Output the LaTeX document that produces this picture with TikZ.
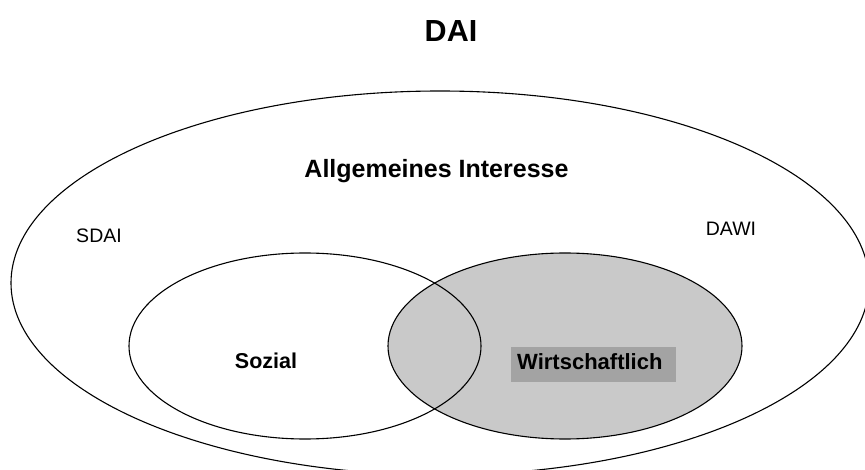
\documentclass[tikz,border=0pt]{standalone}
\usepackage{fontspec}
\setmainfont{Liberation Sans}
\usetikzlibrary{shapes.geometric}
\definecolor{fillgray}{RGB}{201,201,201}
\definecolor{boxgray}{RGB}{163,163,163}
\tikzset{
  ring/.style={ellipse, draw=black, line width=1.1pt, inner sep=0pt},
  lbl/.style={anchor=base, inner sep=0pt, text=black},
}
\begin{document}
\begin{tikzpicture}[x=1pt,y=-1pt]
\useasboundingbox (0,0) rectangle (865,470);
\fill[white] (0,0) rectangle (865,470);
\clip (0,0) rectangle (865,470);
% outer ellipse
\node[ring, minimum width=858pt, minimum height=384pt] (outer) at (440,283) {};
% economic (filled)
\node[ring, fill=fillgray, minimum width=354pt, minimum height=186pt] (wirt) at (565,346) {};
% social (outline only)
\node[ring, minimum width=352pt, minimum height=186pt] (sozial) at (305,346) {};
% label box
\node[draw=none, fill=boxgray, minimum width=165pt, minimum height=35pt, inner sep=0pt] (wbox) at (593.5,364.5) {};
% texts
\node[lbl, font=\fontsize{30.5}{34}\selectfont\bfseries] (dai) at (451,41.5) {DAI};
\node[lbl, font=\fontsize{25}{28}\selectfont\bfseries] (allg) at (436.5,178) {Allgemeines Interesse};
\node[lbl, font=\fontsize{19.5}{22}\selectfont] (sdai) at (99,243) {SDAI};
\node[lbl, font=\fontsize{19.5}{22}\selectfont] (dawi) at (731,236) {DAWI};
\node[lbl, font=\fontsize{21.5}{24}\selectfont\bfseries] (soz) at (266,369) {Sozial};
\node[lbl, anchor=base west, font=\fontsize{22}{25}\selectfont\bfseries] (wtext) at (517,370) {Wirtschaftlich};
\end{tikzpicture}
\end{document}
